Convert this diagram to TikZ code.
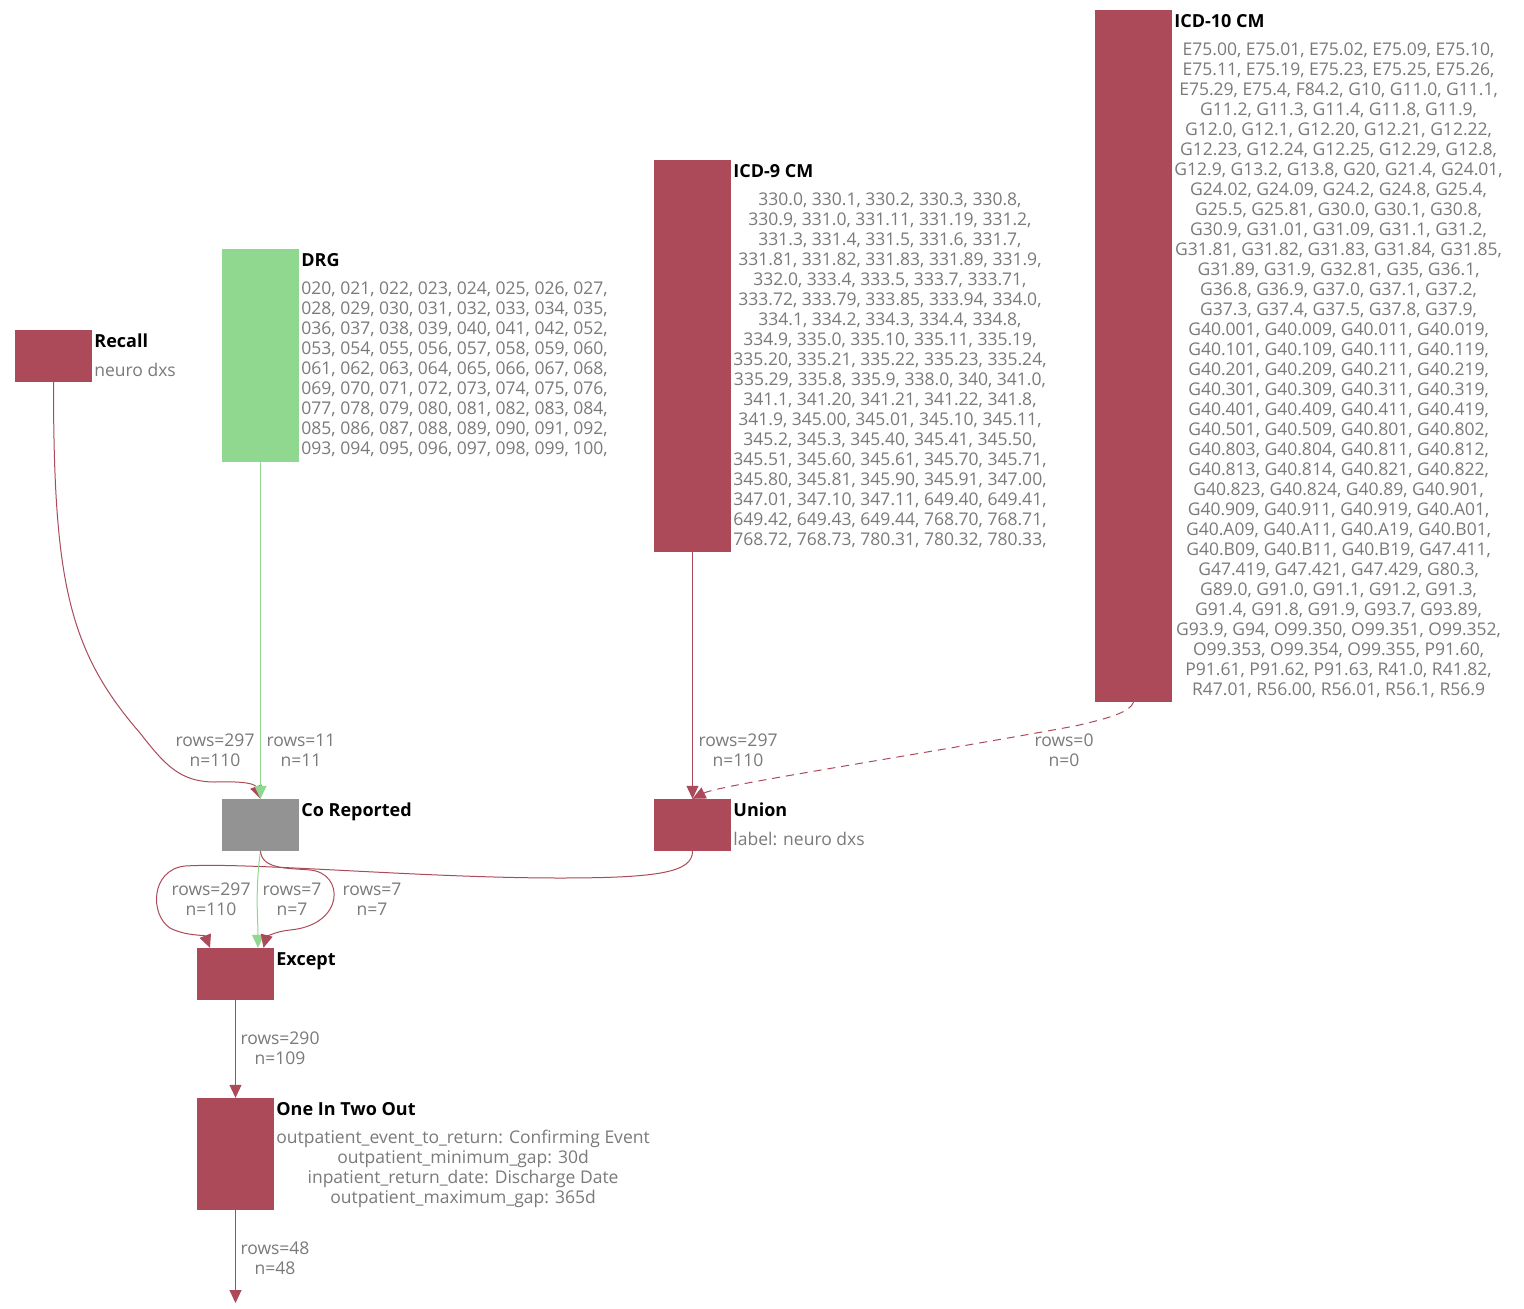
\documentclass[tikz,border=0pt]{standalone}
\usepackage{fontspec}
\setmainfont{Open Sans}
\usetikzlibrary{positioning, arrows.meta}
\definecolor{noderose}{RGB}{172, 74, 90}
\definecolor{nodegreen}{RGB}{144, 216, 144}
\definecolor{nodegray}{RGB}{147, 147, 147}
\definecolor{textgray}{RGB}{122, 122, 122}

\begin{document}
\begin{tikzpicture}[
            x=1pt, y=-1pt,
            box/.style={fill=noderose, minimum width=77pt, minimum height=52pt, inner sep=0pt},
            greenbox/.style={box, fill=nodegreen},
            graybox/.style={box, fill=nodegray},
            boxtitle/.style={font=\fontsize{18}{20}\selectfont\bfseries, inner sep=0pt, anchor=base west},
            boxinfo/.style={font=\fontsize{17.5}{20}\selectfont, text=textgray, align=center, inner sep=0pt, anchor=north west, execute at begin node=\strut},
            lbl/.style={font=\fontsize{17.5}{20}\selectfont, text=textgray, align=center, inner sep=0pt},
            arrow/.style={-{Triangle[length=13pt, width=12pt]}, line width=1pt, noderose},
            greenarrow/.style={arrow, nodegreen},
            dasharrow/.style={arrow, dash pattern=on 8pt off 6pt}
        ]
            \fill[white] (0,0) rectangle (1524,1309);
            \useasboundingbox (0,0) rectangle (1524,1309);

            \node[box] (recall) at (53.5,356) {};
            \node[boxtitle] (recalltitle) at ([xshift=2pt, yshift=-17.5pt]recall.north east) {Recall};
            \node[boxinfo] (recallinfo) at ([xshift=2pt, yshift=-32.5pt]recall.north east) {neuro dxs};

            \node[greenbox, minimum height=213pt] (drg) at (260.5,355.5) {};
            \node[boxtitle] (drgtitle) at ([xshift=2pt, yshift=-17.5pt]drg.north east) {DRG};
            \node[boxinfo] (drginfo) at ([xshift=2pt, yshift=-32.5pt]drg.north east) {020, 021, 022, 023, 024, 025, 026, 027,\\028, 029, 030, 031, 032, 033, 034, 035,\\036, 037, 038, 039, 040, 041, 042, 052,\\053, 054, 055, 056, 057, 058, 059, 060,\\061, 062, 063, 064, 065, 066, 067, 068,\\069, 070, 071, 072, 073, 074, 075, 076,\\077, 078, 079, 080, 081, 082, 083, 084,\\085, 086, 087, 088, 089, 090, 091, 092,\\093, 094, 095, 096, 097, 098, 099, 100,};

            \node[box, minimum height=392pt] (icdnine) at (692.5,356) {};
            \node[boxtitle] (icdninetitle) at ([xshift=2pt, yshift=-17.5pt]icdnine.north east) {ICD-9 CM};
            \node[boxinfo] (icdnineinfo) at ([xshift=2pt, yshift=-32.5pt]icdnine.north east) {330.0, 330.1, 330.2, 330.3, 330.8,\\330.9, 331.0, 331.11, 331.19, 331.2,\\331.3, 331.4, 331.5, 331.6, 331.7,\\331.81, 331.82, 331.83, 331.89, 331.9,\\332.0, 333.4, 333.5, 333.7, 333.71,\\333.72, 333.79, 333.85, 333.94, 334.0,\\334.1, 334.2, 334.3, 334.4, 334.8,\\334.9, 335.0, 335.10, 335.11, 335.19,\\335.20, 335.21, 335.22, 335.23, 335.24,\\335.29, 335.8, 335.9, 338.0, 340, 341.0,\\341.1, 341.20, 341.21, 341.22, 341.8,\\341.9, 345.00, 345.01, 345.10, 345.11,\\345.2, 345.3, 345.40, 345.41, 345.50,\\345.51, 345.60, 345.61, 345.70, 345.71,\\345.80, 345.81, 345.90, 345.91, 347.00,\\347.01, 347.10, 347.11, 649.40, 649.41,\\649.42, 649.43, 649.44, 768.70, 768.71,\\768.72, 768.73, 780.31, 780.32, 780.33,};

            \node[box, minimum height=692pt] (icdten) at (1133.5,356) {};
            \node[boxtitle] (icdtentitle) at ([xshift=2pt, yshift=-17.5pt]icdten.north east) {ICD-10 CM};
            \node[boxinfo] (icdteninfo) at ([xshift=2pt, yshift=-32.5pt]icdten.north east) {E75.00, E75.01, E75.02, E75.09, E75.10,\\E75.11, E75.19, E75.23, E75.25, E75.26,\\E75.29, E75.4, F84.2, G10, G11.0, G11.1,\\G11.2, G11.3, G11.4, G11.8, G11.9,\\G12.0, G12.1, G12.20, G12.21, G12.22,\\G12.23, G12.24, G12.25, G12.29, G12.8,\\G12.9, G13.2, G13.8, G20, G21.4, G24.01,\\G24.02, G24.09, G24.2, G24.8, G25.4,\\G25.5, G25.81, G30.0, G30.1, G30.8,\\G30.9, G31.01, G31.09, G31.1, G31.2,\\G31.81, G31.82, G31.83, G31.84, G31.85,\\G31.89, G31.9, G32.81, G35, G36.1,\\G36.8, G36.9, G37.0, G37.1, G37.2,\\G37.3, G37.4, G37.5, G37.8, G37.9,\\G40.001, G40.009, G40.011, G40.019,\\G40.101, G40.109, G40.111, G40.119,\\G40.201, G40.209, G40.211, G40.219,\\G40.301, G40.309, G40.311, G40.319,\\G40.401, G40.409, G40.411, G40.419,\\G40.501, G40.509, G40.801, G40.802,\\G40.803, G40.804, G40.811, G40.812,\\G40.813, G40.814, G40.821, G40.822,\\G40.823, G40.824, G40.89, G40.901,\\G40.909, G40.911, G40.919, G40.A01,\\G40.A09, G40.A11, G40.A19, G40.B01,\\G40.B09, G40.B11, G40.B19, G47.411,\\G47.419, G47.421, G47.429, G80.3,\\G89.0, G91.0, G91.1, G91.2, G91.3,\\G91.4, G91.8, G91.9, G93.7, G93.89,\\G93.9, G94, O99.350, O99.351, O99.352,\\O99.353, O99.354, O99.355, P91.60,\\P91.61, P91.62, P91.63, R41.0, R41.82,\\R47.01, R56.00, R56.01, R56.1, R56.9};

            \node[graybox] (coreported) at (260.5,825) {};
            \node[boxtitle] (coreportedtitle) at ([xshift=2pt, yshift=-17.5pt]coreported.north east) {Co Reported};

            \node[box] (union) at (692.5,825) {};
            \node[boxtitle] (uniontitle) at ([xshift=2pt, yshift=-17.5pt]union.north east) {Union};
            \node[boxinfo] (unioninfo) at ([xshift=2pt, yshift=-32.5pt]union.north east) {label: neuro dxs};

            \node[box] (except) at (235.5,974) {};
            \node[boxtitle] (excepttitle) at ([xshift=2pt, yshift=-17.5pt]except.north east) {Except};

            \node[box, minimum height=112pt] (oneintwo) at (235.5,1154) {};
            \node[boxtitle] (oneintwotitle) at ([xshift=2pt, yshift=-17.5pt]oneintwo.north east) {One In Two Out};
            \node[boxinfo] (oneintwoinfo) at ([xshift=2pt, yshift=-32.5pt]oneintwo.north east) {outpatient\_event\_to\_return: Confirming Event\\outpatient\_minimum\_gap: 30d\\inpatient\_return\_date: Discharge Date\\outpatient\_maximum\_gap: 365d};

            \coordinate (result) at (235.5,1303);

            \draw[arrow] (recall.south) .. controls (53.5,580) and (68,650) .. (140,733) .. controls (165,765) and (180,782) .. (215,782) .. controls (245,781) and (255,784) .. (coreported.north);
            \draw[greenarrow] (drg.south) -- (coreported.north);
            \draw[arrow] (icdnine.south) -- (union.north);
            \draw[dasharrow] (icdten.south) .. controls (1130,712) and (1110,718) .. (1075,726) .. controls (900,758) and (720,785) .. (union.north);
            \draw[arrow] (union.south) .. controls (692.5,872) and (660,878) .. (560,878) .. controls (420,878) and (250,862) .. (185,866) .. controls (150,870) and (150,915) .. (170,928) .. controls (185,936) and (205,935) .. ([xshift=-25.5pt]except.north);
            \draw[greenarrow] (coreported.south) .. controls (255,890) and (258,920) .. ([xshift=22.5pt]except.north);
            \draw[arrow] (coreported.south) .. controls (262,870) and (290,868) .. (310,870) .. controls (345,873) and (345,925) .. (290,930) .. controls (272,932) and (266,938) .. ([xshift=28pt]except.north);
            \draw[arrow] (except.south) -- (oneintwo.north);
            \draw[arrow] (oneintwo.south) -- (result);

            \node[lbl] (recallrows) at (215,750) {rows=297\\n=110};
            \node[lbl] (drgrows) at (301,750) {rows=11\\n=11};
            \node[lbl] (icdninerows) at (738,750) {rows=297\\n=110};
            \node[lbl] (icdtenrows) at (1064,750) {rows=0\\n=0};
            \node[lbl] (unionrows) at (211,899) {rows=297\\n=110};
            \node[lbl] (greenrows) at (292,899) {rows=7\\n=7};
            \node[lbl] (coreportedrows) at (372,899) {rows=7\\n=7};
            \node[lbl] (exceptrows) at (280,1048) {rows=290\\n=109};
            \node[lbl] (oneintworows) at (275,1258) {rows=48\\n=48};
        \end{tikzpicture}
\end{document}
